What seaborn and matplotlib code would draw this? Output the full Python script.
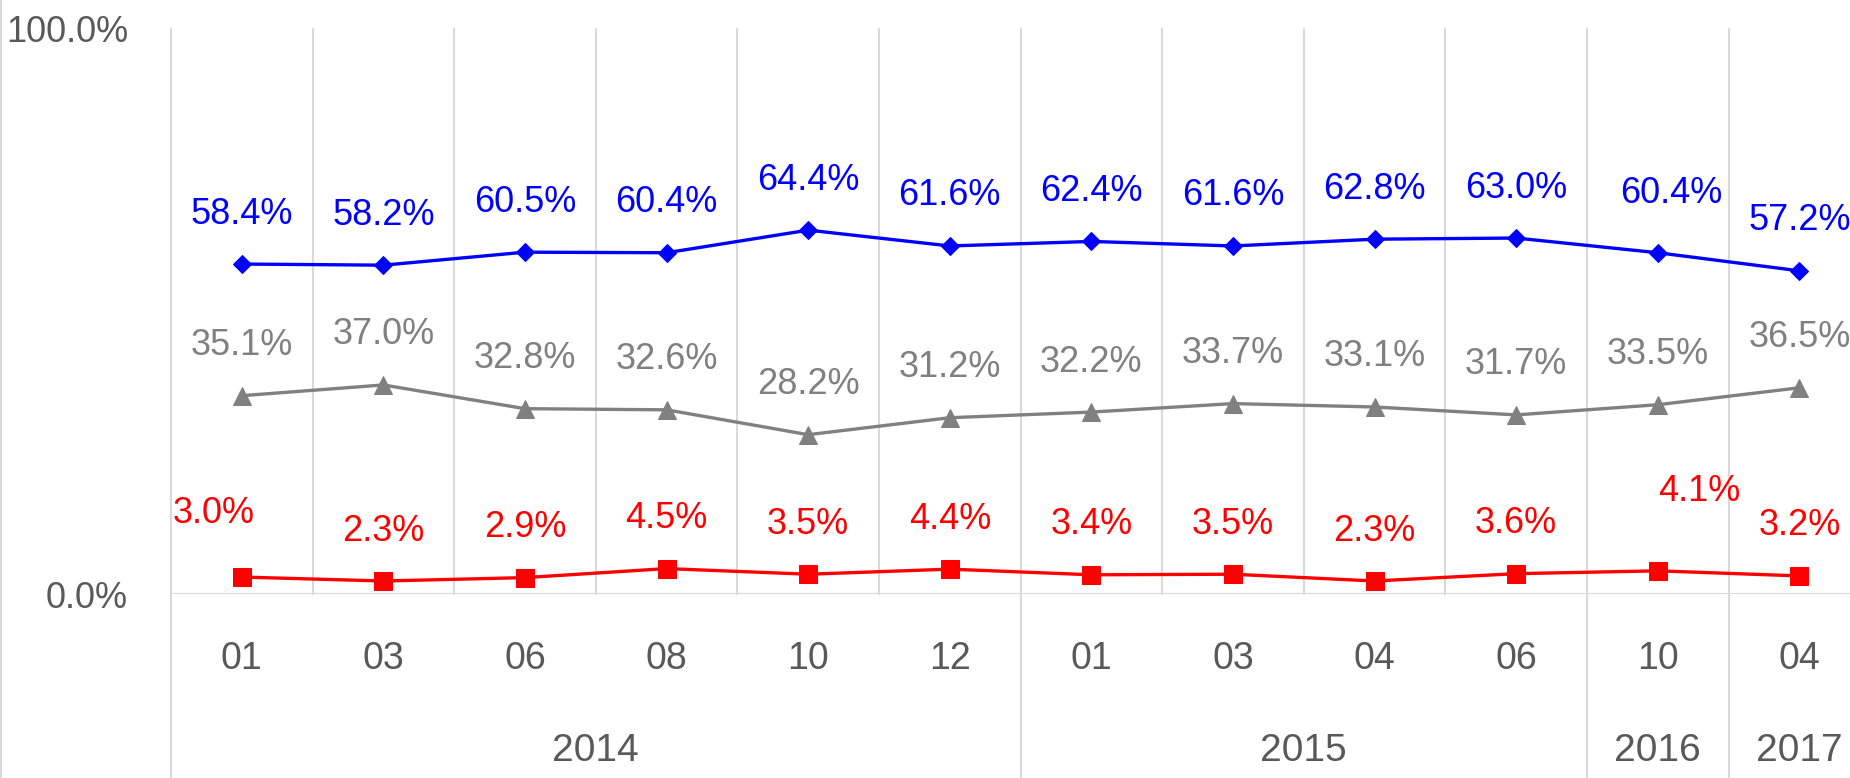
import numpy as np
import pandas as pd
import seaborn as sns
import matplotlib.pyplot as plt
from matplotlib.lines import Line2D
import matplotlib.transforms as mtransforms

months = ["01", "03", "06", "08", "10", "12", "01", "03", "04", "06", "10", "04"]
years = ["2014", "2015", "2016", "2017"]
year_counts = [6, 4, 1, 1]

blue_vals = [58.4, 58.2, 60.5, 60.4, 64.4, 61.6, 62.4, 61.6, 62.8, 63.0, 60.4, 57.2]
gray_vals = [35.1, 37.0, 32.8, 32.6, 28.2, 31.2, 32.2, 33.7, 33.1, 31.7, 33.5, 36.5]
red_vals = [3.0, 2.3, 2.9, 4.5, 3.5, 4.4, 3.4, 3.5, 2.3, 3.6, 4.1, 3.2]

sns.set_style("white")
plt.rcParams["font.family"] = ["Liberation Sans", "DejaVu Sans"]

axis_color = "#595959"
grid_color = "#D9D9D9"

fig = plt.figure(figsize=(18.5, 7.78), dpi=100)
ax = fig.add_axes([171 / 1850, 184 / 778, 1 - 171 / 1850, 565 / 778])

x = np.arange(len(months))
series = [
    (blue_vals, "#0000FF", "D", 8.7),
    (gray_vals, "#808080", "^", 12.5),
    (red_vals, "#FF0000", "s", 13),
]

# a few labels sit off their usual spot: (series, point) -> (dx, dy) in points
nudges = {(0, 10): (10, 7), (2, 0): (-20, 10), (2, 10): (30, 21)}

for si, (vals, color, marker, ms) in enumerate(series):
    df = pd.DataFrame({"x": x, "y": np.array(vals) / 100})
    sns.lineplot(data=df, x="x", y="y", ax=ax, color=color, marker=marker,
                 markersize=ms, markeredgecolor=color, linewidth=2.4,
                 clip_on=False, zorder=3)
    for i, v in enumerate(vals):
        dx, dy = nudges.get((si, i), (0, 0))
        ax.annotate(f"{v:.1f}%", (i, v / 100), xytext=(dx, 36 + dy),
                    textcoords="offset points", ha="center", va="center",
                    fontsize=26, color=color)

ax.set_xlim(-0.5, (1850 - 171) / 141.6 - 0.5)
ax.set_ylim(0, 1)
ax.set_xlabel("")
ax.set_ylabel("")

ax.set_yticks([0, 1])
ax.set_yticklabels(["0.0%", "100.0%"], fontsize=26, color=axis_color)
ax.tick_params(axis="y", length=0, pad=31)

ax.set_xticks(x)
ax.set_xticklabels(months, fontsize=27, color=axis_color)
ax.tick_params(axis="x", length=0, pad=34)

for s in ax.spines.values():
    s.set_visible(False)

# horizontal zero line
ax.axhline(0, color=grid_color, linewidth=1.5, zorder=1)

# vertical gridlines, year boundaries run down past the labels
bounds = np.cumsum([0] + year_counts) - 0.5
trans = mtransforms.blended_transform_factory(ax.transData, ax.transAxes)
bottom = -184 / 565
for b in np.arange(-0.5, len(months), 1.0):
    y0 = bottom if np.any(np.isclose(b, bounds)) else 0
    ax.add_line(Line2D([b, b], [y0, 1], transform=trans, color=grid_color,
                       linewidth=1.5, clip_on=False, zorder=1))

# year labels
for yr, lo, hi in zip(years, bounds[:-1], bounds[1:]):
    ax.text((lo + hi) / 2, -0.277, yr, transform=trans, ha="center",
            va="center", fontsize=28, color=axis_color)

fig.add_artist(Line2D([0.0006, 0.0006], [0, 1], color=grid_color, linewidth=1.5))

fig.savefig("out.png", dpi=100)
